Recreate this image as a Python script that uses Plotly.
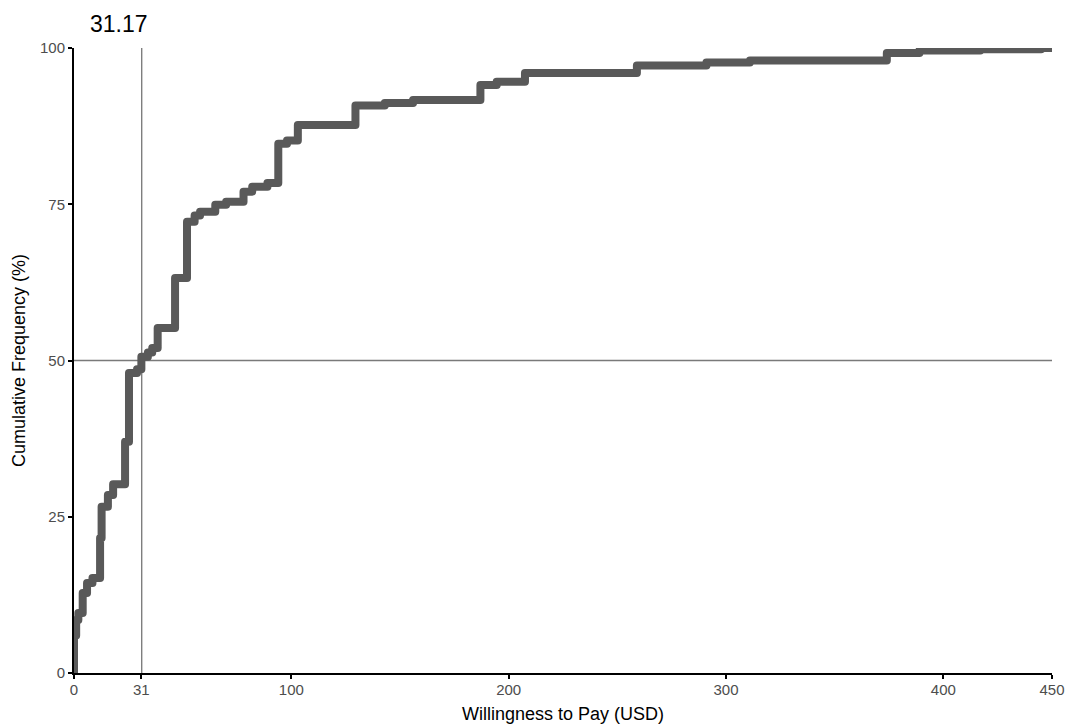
import plotly.graph_objects as go

wtp_usd = [0, 0, 1, 2, 4, 6, 8.5, 12, 12.7, 15.6, 18, 23.5, 25.3, 29, 31, 34, 36,
           38.5, 46.5, 52, 55.5, 58, 65, 70, 78, 82, 89, 94, 98, 103, 129.5,
           143, 156, 187, 194.5, 207.5, 259, 291, 311, 374, 389, 417, 445, 450]
cum_freq_pct = [0, 6.0, 8.5, 9.6, 12.8, 14.4, 15.2, 21.6, 26.6, 28.5, 30.2, 37.0,
                48.0, 48.6, 50.6, 51.3, 52.0, 55.2, 63.2, 72.2, 73.2, 73.8, 74.9,
                75.4, 77.0, 77.8, 78.4, 84.7, 85.2, 87.7, 90.8, 91.2, 91.7, 94.1,
                94.6, 96.0, 97.2, 97.7, 98.0, 99.2, 99.6, 99.8, 100, 100]

median_wtp = 31.17
median_label = "31.17"
x_ticks = [0, 31, 100, 200, 300, 400, 450]
y_ticks = [0, 25, 50, 75, 100]
x_title = "Willingness to Pay (USD)"
y_title = "Cumulative Frequency (%)"

font_family = "Liberation Sans, Arial, sans-serif"

fig = go.Figure()

# reference lines
fig.add_trace(go.Scatter(x=[0, 450], y=[50, 50], mode="lines",
                         line=dict(color="#7a7a7a", width=1.5),
                         hoverinfo="skip", showlegend=False))
fig.add_trace(go.Scatter(x=[median_wtp, median_wtp], y=[0, 100], mode="lines",
                         line=dict(color="#6a6a6a", width=1.2),
                         hoverinfo="skip", showlegend=False))

# ECDF step line
fig.add_trace(go.Scatter(x=wtp_usd, y=cum_freq_pct, mode="lines",
                         line=dict(color="#595959", width=8, shape="hv"),
                         showlegend=False))

fig.add_annotation(x=20.5, y=1, xref="x", yref="paper", yanchor="bottom",
                   xanchor="center", yshift=9, showarrow=False,
                   text=median_label, font=dict(size=23, color="black", family=font_family))

fig.update_layout(
    width=1066, height=725, autosize=False,
    margin=dict(l=74, r=14, t=48, b=52),
    plot_bgcolor="white", paper_bgcolor="white",
    font=dict(family=font_family),
    xaxis=dict(range=[0, 450], tickvals=x_ticks, ticktext=[str(t) for t in x_ticks],
               showgrid=False, zeroline=False, showline=True, linecolor="black",
               linewidth=2, ticks="outside", ticklen=4, tickwidth=1.5, tickcolor="black",
               tickfont=dict(size=15, color="#4d4d4d"), ticklabelstandoff=-2,
               automargin=False,
               title=dict(text=x_title, font=dict(size=18, color="black"), standoff=10)),
    yaxis=dict(range=[0, 100], tickvals=y_ticks,
               showgrid=False, zeroline=False, showline=True, linecolor="black",
               linewidth=2, ticks="outside", ticklen=4, tickwidth=1.5, tickcolor="black",
               tickfont=dict(size=15, color="#4d4d4d"), automargin=False,
               title=dict(text=y_title, font=dict(size=18, color="black"), standoff=10)),
)

post = """
document.body.style.margin = '0';
document.body.style.overflow = 'hidden';
document.querySelectorAll('.scatterlayer .js-line').forEach(function(p){
  p.style.strokeLinejoin = 'round';
  p.style.strokeLinecap = 'round';
});
"""

fig.write_html("out.html", post_script=post, config={"displayModeBar": False})
